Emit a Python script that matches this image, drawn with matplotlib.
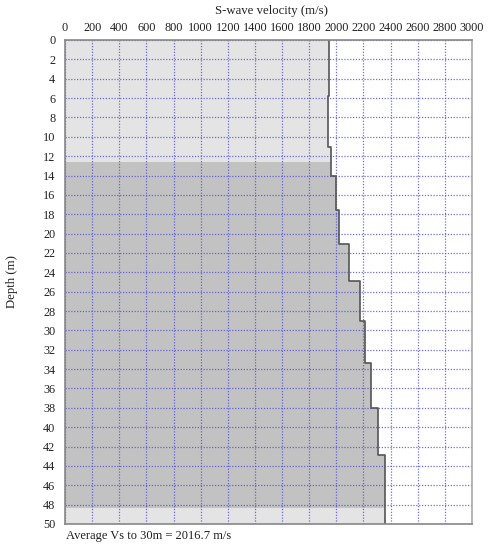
import numpy as np
import matplotlib
matplotlib.use("Agg")
import matplotlib.pyplot as plt

# Layer data (top depth in m, shear-wave velocity in m/s)
layer_tops = [0.0, 5.8, 11.1, 14.1, 17.6, 21.1, 24.9, 29.0, 33.4, 38.0, 42.9]
layer_vs = [1947, 1936, 1962, 1999, 2023, 2095, 2176, 2213, 2259, 2306, 2360]
max_depth = 50.0
band_top = 12.65
band_bottom = 48.3
x_ticks = list(range(0, 3001, 200))
y_ticks = list(range(0, 51, 2))
title = "S-wave velocity (m/s)"
ylabel = "Depth (m)"
note = "Average Vs to 30m = 2016.7 m/s"

plt.rcParams['font.family'] = ['Liberation Serif', 'DejaVu Serif']

fig = plt.figure(figsize=(4.92, 5.5), dpi=100)
ax = fig.add_axes([65/492, 1-524/550, (472-65)/492, (524-40)/550])

bounds = layer_tops + [max_depth]
def profile(d):
    d = np.asarray(d)
    idx = np.searchsorted(np.array(layer_tops), d, side='right') - 1
    idx = np.clip(idx, 0, len(layer_vs)-1)
    return np.array(layer_vs)[idx]

eps = 1e-6
dpts = []
for i, t in enumerate(layer_tops):
    b = bounds[i+1]
    dpts += [t, b - eps]
dpts = np.array(dpts)
vpts = profile(dpts)

def fill_range(d0, d1, color):
    mask = (dpts >= d0) & (dpts <= d1)
    dd = np.concatenate([[d0], dpts[mask], [d1]])
    vv = profile(np.concatenate([[d0], dpts[mask], [min(d1, max_depth) - eps]]))
    ax.fill_betweenx(dd, 0, vv, color=color, lw=0, zorder=1)

fill_range(0, band_top, '#e4e4e4')
fill_range(band_top, band_bottom, '#c2c2c2')
fill_range(band_bottom, max_depth, '#e4e4e4')

ax.plot(vpts, dpts, color='#555555', lw=1.2, zorder=3)

ax.set_xlim(0, 3000)
ax.set_ylim(max_depth, 0)
ax.set_xticks(x_ticks)
ax.set_yticks(y_ticks)
ax.xaxis.tick_top()
ax.tick_params(length=0, labelsize=8.8, colors='#222222')
ax.tick_params(axis='x', pad=4)
ax.tick_params(axis='y', pad=7)
ax.grid(True, color='#5555dd', ls=(0, (1, 1.3)), lw=0.9, alpha=0.85, zorder=2)
ax.set_axisbelow(False)
for s in ax.spines.values():
    s.set_color('#888888')
    s.set_linewidth(1.2)
    s.set_zorder(4)
ax.spines['right'].set_color('#aaaaaa')

fig.text(271/492, 1-11/550, title, ha='center', va='center', fontsize=9.2, color='#222222')
fig.text(12/492, 1-282/550, ylabel, ha='center', va='center', rotation=90, fontsize=9.2, color='#222222')
fig.text(66/492, 1-536/550, note, ha='left', va='center', fontsize=9, color='#222222')

fig.savefig('out.png', dpi=100)
